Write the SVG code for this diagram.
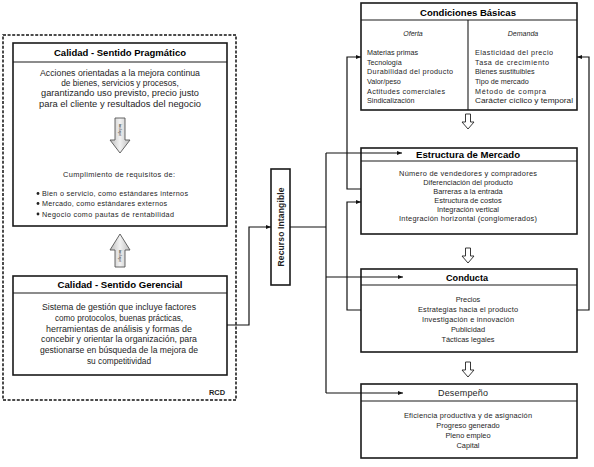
<svg xmlns="http://www.w3.org/2000/svg" width="594" height="467" viewBox="0 0 594 467">
<defs>
<marker id="ah" viewBox="0 0 10 10" refX="10" refY="5" markerWidth="5" markerHeight="5" orient="auto" markerUnits="userSpaceOnUse">
<path d="M0,1 L10,5 L0,9 Z" fill="#111"/>
</marker>
<linearGradient id="ga" x1="0" y1="0" x2="1" y2="0">
<stop offset="0" stop-color="#bdbdbd"/><stop offset="0.5" stop-color="#f2f2f2"/><stop offset="1" stop-color="#bdbdbd"/>
</linearGradient>
</defs>
<style>
text{font-family:"Liberation Sans",Arial,sans-serif;fill:#1e1e1e}
.box{fill:#fff;stroke:#1a1a1a;stroke-width:1.6}
.hl{stroke:#1a1a1a;stroke-width:1.1;fill:none}
.t{font-weight:bold;font-size:9.3px;text-anchor:middle;fill:#000}
.b{font-size:8.3px;text-anchor:middle}
.s{font-size:7.2px}
.c{font-size:7.4px;text-anchor:middle}
.con{fill:none;stroke:#111;stroke-width:1.2}
.blk{fill:url(#ga);stroke:#555;stroke-width:0.9}
.hol{fill:#fff;stroke:#222;stroke-width:0.9}
</style>
<rect width="594" height="467" fill="#fff"/>

<g id="rcd">
<rect x="3" y="35" width="233" height="365" fill="none" stroke="#111" stroke-width="1.5" stroke-dasharray="3,1.6"/>
<text x="217" y="395" font-size="7.5" font-weight="bold" text-anchor="middle">RCD</text>
</g>

<g id="pragmatico">
<rect class="box" x="13" y="43" width="214" height="183"/>
<line class="hl" x1="13" y1="62" x2="227" y2="62"/>
<text class="t" x="120" y="56" textLength="132" lengthAdjust="spacingAndGlyphs">Calidad - Sentido Pragmático</text>
<text class="b" x="120" y="76" textLength="160" lengthAdjust="spacingAndGlyphs">Acciones orientadas a la mejora continua</text>
<text class="b" x="120" y="86">de bienes, servicios y procesos,</text>
<text class="b" x="120" y="96" textLength="158" lengthAdjust="spacingAndGlyphs">garantizando uso previsto, precio justo</text>
<text class="b" x="120" y="107" textLength="162" lengthAdjust="spacingAndGlyphs">para el cliente y resultados del negocio</text>
<text class="c" x="119" y="176.5" textLength="112">Cumplimiento  de requisitos de:</text>
<circle cx="38" cy="193.5" r="1.4" fill="#222"/>
<circle cx="38" cy="203.5" r="1.4" fill="#222"/>
<circle cx="38" cy="214" r="1.4" fill="#222"/>
<text class="s" x="42" y="196" textLength="146">Bien o servicio, como estándares internos</text>
<text class="s" x="42" y="206" textLength="125">Mercado, como estándares externos</text>
<text class="s" x="42" y="216.5" textLength="132">Negocio como pautas de rentabilidad</text>
</g>

<g id="incluye-1">
<path class="blk" d="M115,118 H125 V140 H130 L120,153 L110,140 H115 Z"/>
<text x="120" y="130" font-size="4" text-anchor="middle" transform="rotate(90 120 130)" dy="1.3">incluye</text>
</g>

<g id="incluye-2">
<path class="blk" d="M115,267 H125 V250 H130 L120,234 L110,250 H115 Z"/>
<text x="120" y="256" font-size="4" text-anchor="middle" transform="rotate(90 120 256)" dy="1.3">incluye</text>
</g>

<g id="gerencial">
<rect class="box" x="13" y="276" width="214" height="99"/>
<line class="hl" x1="13" y1="293" x2="227" y2="293"/>
<text class="t" x="120" y="288" textLength="125" lengthAdjust="spacingAndGlyphs">Calidad - Sentido Gerencial</text>
<text class="b" x="119" y="310" textLength="154" lengthAdjust="spacingAndGlyphs">Sistema de gestión que incluye factores</text>
<text class="b" x="119" y="320.5" textLength="128" lengthAdjust="spacingAndGlyphs">como protocolos, buenas prácticas,</text>
<text class="b" x="119" y="331.5" textLength="146" lengthAdjust="spacingAndGlyphs">herramientas de análisis y formas de</text>
<text class="b" x="119" y="342" textLength="156" lengthAdjust="spacingAndGlyphs">concebir y orientar la organización, para</text>
<text class="b" x="119" y="353" textLength="158" lengthAdjust="spacingAndGlyphs">gestionarse en búsqueda de la mejora de</text>
<text class="b" x="119" y="364">su competitividad</text>
</g>

<g id="recurso">
<rect class="box" x="271" y="169" width="19" height="116"/>
<text x="280.5" y="227" font-size="8.5" font-weight="bold" text-anchor="middle" fill="#000" transform="rotate(-90 280.5 227)" dy="3" textLength="79">Recurso Intangible</text>
</g>

<g id="condiciones">
<rect class="box" x="361" y="3" width="216" height="107"/>
<line class="hl" x1="361" y1="20" x2="577" y2="20"/>
<line class="hl" x1="468" y1="20" x2="468" y2="110"/>
<text class="t" x="468" y="15.5" textLength="96" lengthAdjust="spacingAndGlyphs">Condiciones Básicas</text>
<text x="413" y="35.5" font-size="7" font-style="italic" text-anchor="middle">Oferta</text>
<text x="523" y="35.5" font-size="7" font-style="italic" text-anchor="middle">Demanda</text>
<g class="s">
<text x="367" y="54.5">Materias primas</text>
<text x="367" y="64.5">Tecnología</text>
<text x="367" y="74" textLength="86">Durabilidad del producto</text>
<text x="367" y="83.5">Valor/peso</text>
<text x="367" y="93.5" textLength="78">Actitudes comerciales</text>
<text x="367" y="103">Sindicalización</text>
<text x="475" y="54.5" textLength="78">Elasticidad del precio</text>
<text x="475" y="64.5" textLength="74">Tasa de crecimiento</text>
<text x="475" y="74">Bienes sustituibles</text>
<text x="475" y="83.5">Tipo de mercado</text>
<text x="475" y="93.5" textLength="71">Método de compra</text>
<text x="475" y="103" textLength="98" lengthAdjust="spacingAndGlyphs">Carácter cíclico y temporal</text>
</g>
</g>

<g id="flecha-1"><path class="hol" d="M465.5,114 H470.5 V122 H474 L468,129 L462,122 H465.5 Z"/></g>

<g id="estructura">
<rect class="box" x="361" y="148" width="216" height="86"/>
<line class="hl" x1="361" y1="161" x2="577" y2="161"/>
<text class="t" x="468" y="158" textLength="104" lengthAdjust="spacingAndGlyphs">Estructura de Mercado</text>
<text class="c" x="468" y="175.5" textLength="138">Número de vendedores y compradores</text>
<text class="c" x="468" y="184.5">Diferenciación del producto</text>
<text class="c" x="468" y="193.5">Barreras a la entrada</text>
<text class="c" x="468" y="202.5">Estructura de costos</text>
<text class="c" x="468" y="211.5">Integración vertical</text>
<text class="c" x="468" y="220.5" textLength="138">Integración horizontal (conglomerados)</text>
</g>

<g id="flecha-2"><path class="hol" d="M465.5,248 H470.5 V256 H474 L468,263 L462,256 H465.5 Z"/></g>

<g id="conducta">
<rect class="box" x="361" y="269" width="216" height="83"/>
<line class="hl" x1="361" y1="285" x2="577" y2="285"/>
<text class="t" x="467" y="280.5" textLength="42" lengthAdjust="spacingAndGlyphs">Conducta</text>
<text class="c" x="468" y="301.5">Precios</text>
<text class="c" x="468" y="311.5" textLength="100">Estrategias hacia el producto</text>
<text class="c" x="468" y="321.5" textLength="92">Investigación  e innovación</text>
<text class="c" x="468" y="331.5">Publicidad</text>
<text class="c" x="468" y="341.5">Tácticas legales</text>
</g>

<g id="flecha-3"><path class="hol" d="M465.5,362 H470.5 V370 H474 L468,377 L462,370 H465.5 Z"/></g>

<g id="desempeno">
<rect class="box" x="361" y="384" width="216" height="74"/>
<line class="hl" x1="361" y1="401" x2="577" y2="401"/>
<text x="463" y="396" font-size="9" text-anchor="middle" fill="#000" textLength="50">Desempeño</text>
<text class="c" x="468" y="417.5" textLength="128">Eficiencia productiva  y de asignación</text>
<text class="c" x="468" y="427.5">Progreso generado</text>
<text class="c" x="468" y="437.5">Pleno empleo</text>
<text class="c" x="468" y="447.5">Capital</text>
</g>

<g id="connectors">
<path class="con" d="M227,325 H249 V227 H271" marker-end="url(#ah)"/>
<path class="con" d="M290,227 H326"/>
<path class="con" d="M326,153 V393"/>
<path class="con" d="M326,153 H402" marker-end="url(#ah)"/>
<path class="con" d="M326,277 H403" marker-end="url(#ah)"/>
<path class="con" d="M326,393 H403" marker-end="url(#ah)"/>
<path class="con" d="M361,189 H347 V57 H361" marker-end="url(#ah)"/>
<path class="con" d="M361,310 H347 V202 H361" marker-end="url(#ah)"/>
<path class="con" d="M577,310 H589 V57 H577" marker-end="url(#ah)"/>
</g>
</svg>
